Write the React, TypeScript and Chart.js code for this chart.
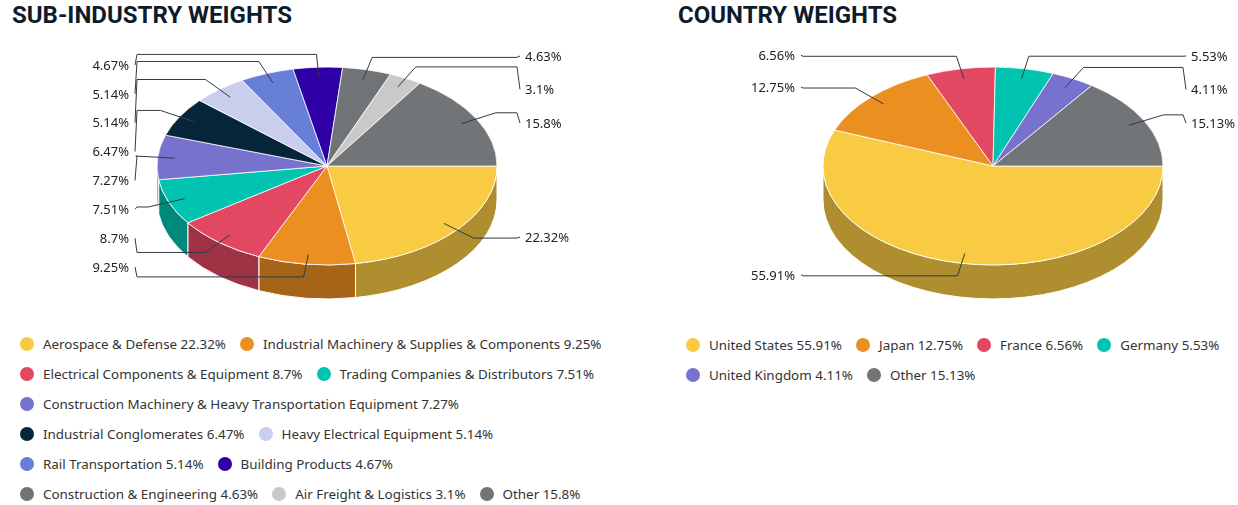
import React, { useEffect, useRef } from "react";
import { Chart, registerables } from "chart.js";

Chart.register(...registerables);

// ---------- data ----------
const subIndustryLabels = [
  "Aerospace & Defense",
  "Industrial Machinery & Supplies & Components",
  "Electrical Components & Equipment",
  "Trading Companies & Distributors",
  "Construction Machinery & Heavy Transportation Equipment",
  "Industrial Conglomerates",
  "Heavy Electrical Equipment",
  "Rail Transportation",
  "Building Products",
  "Construction & Engineering",
  "Air Freight & Logistics",
  "Other",
];
const subIndustryValues = [22.32, 9.25, 8.7, 7.51, 7.27, 6.47, 5.14, 5.14, 4.67, 4.63, 3.1, 15.8];
const subIndustryColors = [
  "#f9cb42", "#ec8f21", "#e34862", "#00c3b0", "#7872cf", "#06253a",
  "#caceed", "#687fd8", "#2e00a5", "#707477", "#c8c9c8", "#717578",
];

const countryLabels = ["United States", "Japan", "France", "Germany", "United Kingdom", "Other"];
const countryValues = [55.91, 12.75, 6.56, 5.53, 4.11, 15.13];
const countryColors = ["#f9cb42", "#ec8f21", "#e34862", "#00c3b0", "#7872cf", "#717578"];

// ---------- style constants ----------
const FONT = '"Noto Sans", "Open Sans", sans-serif';
const TILT = 0.582;
const DEPTH = 34;
const RADIUS = 170;

function darken(hex: string, f: number) {
  const n = parseInt(hex.slice(1), 16);
  const r = Math.round(((n >> 16) & 255) * f);
  const g = Math.round(((n >> 8) & 255) * f);
  const b = Math.round((n & 255) * f);
  return `rgb(${r},${g},${b})`;
}

type Col = { min: number; max: number; gap: number };

function distribute(targets: number[], gap: number, min: number, max: number): number[] {
  const n = targets.length;
  if (!n) return [];
  const g = n > 1 ? Math.min(gap, (max - min) / (n - 1)) : gap;
  let groups = targets.map((t) => ({ ts: [t], start: Math.min(Math.max(t, min), max) }));
  let merged = true;
  while (merged) {
    merged = false;
    for (let k = 0; k < groups.length - 1; k++) {
      const A = groups[k];
      const B = groups[k + 1];
      const aEnd = A.start + (A.ts.length - 1) * g;
      if (aEnd + g > B.start + 0.01) {
        const ts = A.ts.concat(B.ts);
        const mean = ts.reduce((p, q) => p + q, 0) / ts.length;
        let start = mean - ((ts.length - 1) * g) / 2;
        start = Math.max(min, Math.min(start, max - (ts.length - 1) * g));
        groups.splice(k, 2, { ts, start });
        merged = true;
        break;
      }
    }
  }
  const out: number[] = [];
  groups.forEach((G) => G.ts.forEach((_t, j) => out.push(G.start + j * g)));
  return out;
}

const pie3d = {
  id: "pie3d",
  beforeDatasetsDraw(chart: any, _args: any, opts: any) {
    const ctx = chart.ctx;
    const meta = chart.getDatasetMeta(0);
    const colors = chart.data.datasets[0].backgroundColor as string[];
    let cx = 0;
    let cy = 0;
    ctx.save();
    meta.data.forEach((arc: any, i: number) => {
      const { x, y, startAngle, endAngle, outerRadius } = arc.getProps(
        ["x", "y", "startAngle", "endAngle", "outerRadius"],
        true
      );
      cx = x;
      cy = y;
      const a = Math.max(startAngle, 0);
      const b = Math.min(endAngle, Math.PI);
      if (b <= a) return;
      const ry = outerRadius * opts.tilt;
      ctx.beginPath();
      ctx.ellipse(x, y, outerRadius, ry, 0, a, b, false);
      ctx.lineTo(x + outerRadius * Math.cos(b), y + ry * Math.sin(b) + opts.depth);
      ctx.ellipse(x, y + opts.depth, outerRadius, ry, 0, b, a, true);
      ctx.closePath();
      ctx.fillStyle = darken(colors[i], 0.7);
      ctx.fill();
      ctx.strokeStyle = "#ffffff";
      ctx.lineWidth = 1;
      ctx.stroke();
    });
    ctx.restore();
    ctx.save();
    ctx.translate(cx, cy);
    ctx.scale(1, opts.tilt);
    ctx.translate(-cx, -cy);
  },
  afterDatasetsDraw(chart: any, _args: any, opts: any) {
    const ctx = chart.ctx;
    ctx.restore();
    const meta = chart.getDatasetMeta(0);
    const values = chart.data.datasets[0].data as number[];
    const items: any[] = meta.data.map((arc: any, i: number) => {
      const { x, y, startAngle, endAngle, outerRadius } = arc.getProps(
        ["x", "y", "startAngle", "endAngle", "outerRadius"],
        true
      );
      const mid = (startAngle + endAngle) / 2;
      const c = Math.cos(mid);
      const s = Math.sin(mid);
      const R = outerRadius;
      return {
        i,
        cx: x,
        cy: y,
        R,
        side: c < 0 ? "left" : "right",
        P: { x: x + 0.9 * R * c, y: y + 0.9 * R * opts.tilt * s },
        Q: { x: x + (R + 22) * c, y: y + (R + 22) * opts.tilt * s },
        text: values[i] + "%",
      };
    });
    (["left", "right"] as const).forEach((side) => {
      const col: Col = side === "left" ? opts.leftCol : opts.rightCol;
      const list = items.filter((it) => it.side === side).sort((p, q) => p.Q.y - q.Q.y);
      if (!list.length) return;
      const cy = list[0].cy;
      const ys = distribute(
        list.map((it) => it.Q.y),
        col.gap,
        cy + col.min,
        cy + col.max
      );
      list.forEach((it, k) => {
        const ly = ys[k];
        const colX = side === "left" ? it.cx - it.R - 20 : it.cx + it.R + 20;
        ctx.save();
        ctx.beginPath();
        ctx.moveTo(it.P.x, it.P.y);
        ctx.lineTo(it.Q.x, it.Q.y);
        ctx.lineTo(colX, it.Q.y);
        ctx.lineTo(side === "left" ? colX - 2 : colX + 3, ly - 1);
        ctx.strokeStyle = "#2f3b47";
        ctx.lineWidth = 1;
        ctx.stroke();
        ctx.font = `13px ${FONT}`;
        ctx.fillStyle = "#222222";
        ctx.textBaseline = "middle";
        ctx.textAlign = side === "left" ? "right" : "left";
        ctx.fillText(it.text, side === "left" ? colX - 8 : colX + 8, ly);
        ctx.restore();
      });
    });
  },
};

type PieProps = {
  values: number[];
  colors: string[];
  labels: string[];
  left: number;
  top: number;
  width: number;
  height: number;
  cx: number; // page coords
  cy: number;
  leftCol: Col;
  rightCol: Col;
};

function Pie3D(p: PieProps) {
  const ref = useRef<HTMLCanvasElement | null>(null);
  useEffect(() => {
    if (!ref.current) return;
    const lx = p.cx - p.left;
    const ly = p.cy - p.top;
    const pad = { left: 0, right: 0, top: 0, bottom: 0 };
    if (lx > p.width / 2) pad.left = 2 * lx - p.width;
    else pad.right = p.width - 2 * lx;
    if (ly > p.height / 2) pad.top = 2 * ly - p.height;
    else pad.bottom = p.height - 2 * ly;
    const chart = new Chart(ref.current, {
      type: "pie",
      data: {
        labels: p.labels,
        datasets: [
          {
            data: p.values,
            backgroundColor: p.colors,
            borderColor: "#ffffff",
            borderWidth: 1,
            clip: false,
          } as any,
        ],
      },
      options: {
        responsive: false,
        animation: false,
        events: [],
        rotation: 90,
        radius: RADIUS,
        layout: { padding: pad },
        plugins: {
          legend: { display: false },
          tooltip: { enabled: false },
          pie3d: { tilt: TILT, depth: DEPTH, leftCol: p.leftCol, rightCol: p.rightCol },
        } as any,
      } as any,
      plugins: [pie3d as any],
    });
    return () => chart.destroy();
  }, []);
  return (
    <canvas
      ref={ref}
      width={p.width}
      height={p.height}
      style={{ position: "absolute", left: p.left, top: p.top, width: p.width, height: p.height }}
    />
  );
}

function Legend(props: {
  labels: string[];
  values: number[];
  colors: string[];
  left: number;
  top: number;
  width: number;
}) {
  return (
    <div
      style={{
        position: "absolute",
        left: props.left,
        top: props.top,
        width: props.width,
        display: "flex",
        flexWrap: "wrap",
        columnGap: 14,
        fontFamily: FONT,
        fontSize: 13.4,
        color: "#333333",
      }}
    >
      {props.labels.map((l, i) => (
        <div key={l} style={{ display: "flex", alignItems: "center", height: 30, whiteSpace: "nowrap" }}>
          <span
            style={{
              display: "inline-block",
              width: 14,
              height: 14,
              borderRadius: "50%",
              background: props.colors[i],
              marginRight: 9,
            }}
          />
          <span>
            {l} {props.values[i]}%
          </span>
        </div>
      ))}
    </div>
  );
}

function Title(props: { text: string; left: number }) {
  return (
    <div
      style={{
        position: "absolute",
        left: props.left,
        top: 0,
        height: 30,
        lineHeight: "30px",
        fontFamily: "Roboto, sans-serif",
        fontWeight: 700,
        fontSize: 24,
        color: "#0d1b2a",
        whiteSpace: "nowrap",
      }}
    >
      {props.text}
    </div>
  );
}

export default function App() {
  return (
    <div style={{ position: "absolute", left: 0, top: 0, width: 1238, height: 505, background: "#fff" }}>
      <Pie3D
        labels={subIndustryLabels}
        values={subIndustryValues}
        colors={subIndustryColors}
        left={0}
        top={30}
        width={660}
        height={290}
        cx={327}
        cy={166}
        leftCol={{ min: -100, max: 102, gap: 29 }}
        rightCol={{ min: -109, max: 130, gap: 33.5 }}
      />
      <Pie3D
        labels={countryLabels}
        values={countryValues}
        colors={countryColors}
        left={660}
        top={30}
        width={578}
        height={290}
        cx={993}
        cy={166}
        leftCol={{ min: -116, max: 130, gap: 30 }}
        rightCol={{ min: -109, max: 130, gap: 33.5 }}
      />
      <Title text="SUB-INDUSTRY WEIGHTS" left={12} />
      <Title text="COUNTRY WEIGHTS" left={678} />
      <Legend
        labels={subIndustryLabels}
        values={subIndustryValues}
        colors={subIndustryColors}
        left={20}
        top={329}
        width={615}
      />
      <Legend
        labels={countryLabels}
        values={countryValues}
        colors={countryColors}
        left={686}
        top={330}
        width={552}
      />
    </div>
  );
}
